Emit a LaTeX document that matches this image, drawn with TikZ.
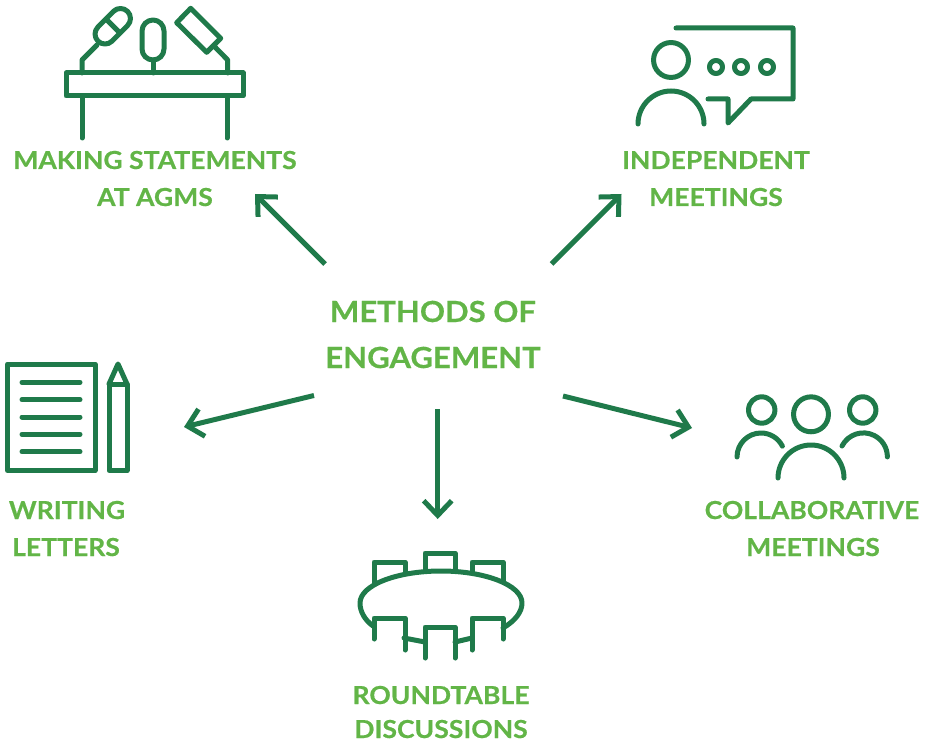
\documentclass[tikz,border=0pt]{standalone}
\usepackage{fontspec}
\setmainfont{Lato}[BoldFeatures={FakeStretch=1.07,FakeBold=0.5}]
\usetikzlibrary{arrows.meta}
\definecolor{dk}{HTML}{1F7A4A}
\definecolor{lt}{HTML}{62B547}
\tikzset{
  x=0.75pt,y=-0.75pt,
  icon/.style={draw=dk,line width=3.75pt,line cap=round,line join=round},
  arrowline/.style={draw=dk,line width=3.75pt,-{Straight Barb[length=11pt,width=21pt,line width=3.75pt]}},
  title/.style={text=lt,font=\fontsize{21.8}{34.5}\selectfont\bfseries,align=center,anchor=base,inner sep=0pt},
  label/.style={text=lt,font=\fontsize{18.6}{27}\selectfont\bfseries,align=center,anchor=base,inner sep=0pt},
}
\begin{document}
\begin{tikzpicture}
\useasboundingbox (0,0) rectangle (930,741);
% labels
\node[title] (methodsA) at (433,322) {METHODS OF};
\node[title] (methodsB) at (433,368) {ENGAGEMENT};
\node[label] (agmA) at (155,169) {MAKING STATEMENTS};
\node[label] (agmB) at (155,206) {AT AGMS};
\node[label] (indA) at (716,169) {INDEPENDENT};
\node[label] (indB) at (716,206) {MEETINGS};
\node[label] (wriA) at (67,519) {WRITING};
\node[label] (wriB) at (66,556) {LETTERS};
\node[label] (colA) at (812,519) {COLLABORATIVE};
\node[label] (colB) at (813,556) {MEETINGS};
\node[label] (rouA) at (441,704) {ROUNDTABLE};
\node[label] (rouB) at (441,738) {DISCUSSIONS};
% arrows
\coordinate (t1) at (325,264); \coordinate (h1) at (255,194);
\coordinate (t2) at (551.5,264); \coordinate (h2) at (621.5,194);
\coordinate (t3) at (314,395.5); \coordinate (h3) at (184,427);
\coordinate (t4) at (563,396); \coordinate (h4) at (692,428);
\coordinate (t5) at (437.7,409); \coordinate (h5) at (437.7,519);
\foreach \i in {1,...,5} \draw[arrowline] (t\i) -- (h\i);
% podium
\draw[icon] (66,73) rectangle (243,96);
\draw[icon] (82,96) -- (82,138);
\draw[icon] (227,96) -- (227,138);
\draw[icon] (82,73) -- (82,60) -- (97,45);
\draw[icon] (98,26.9) -- (113.4,11.4) arc[start angle=135,end angle=-45,radius=7.5pt] -- (112.1,41.1) arc[start angle=-45,end angle=-225,radius=7.5pt] -- cycle;
\draw[icon] (106,19) -- (120,33);
\draw[icon] (142,31) arc[start angle=180,end angle=0,radius=8.25pt] -- (164,49) arc[start angle=0,end angle=-180,radius=8.25pt] -- cycle;
\draw[icon] (153,60) -- (153,73);
\draw[icon] (190.7,8.3) -- (176.7,22.7) -- (206.7,52.3) -- (220.7,38.3) -- cycle;
\draw[icon] (214,46) -- (227.7,60) -- (227.7,73);
% person with bubble
\draw[icon] (671,60) circle[radius=13.1pt];
\draw[icon] (638,124) arc[start angle=180,end angle=0,radius=24.75pt];
\draw[icon] (676,28) -- (793,28) -- (793,99) -- (751,99) -- (728,123) -- (728,99) -- (708,99);
\foreach \x in {716,741,767} \draw[icon] (\x,67) circle[radius=4.9pt];
% writing
\draw[icon] (7.5,364) rectangle (95,470.5);
\foreach \y in {382.3,399.7,417,434.3,451.7} \draw[icon] (22,\y) -- (80,\y);
\draw[icon] (109,384) rectangle (127,470.5);
\draw[icon] (109,384) -- (118,364) -- (127,384);
% round table
\draw[icon] (503,628) .. controls (515,621) and (522,612) .. (522,603) .. controls (522,585) and (485,571) .. (441,571) .. controls (397,571) and (360,585) .. (360,603) .. controls (360,612) and (365,620) .. (373,626);
\draw[icon] (374,582) -- (374,562) -- (405,562) -- (405,572);
\draw[icon] (425,570) -- (425,553) -- (455,553) -- (455,570);
\draw[icon] (472,572) -- (472,562) -- (503,562) -- (503,582);
\draw[icon] (374,639) -- (374,618) -- (405,618) -- (405,650);
\draw[icon] (425,658) -- (425,627) -- (455,627) -- (455,658);
\draw[icon] (472,650) -- (472,618) -- (503,618) -- (503,639);
\draw[icon] (404,638) -- (425,642);
\draw[icon] (455,642) -- (472,638);
% group
\draw[icon] (761.7,410) circle[radius=9.9pt];
\draw[icon] (811,414.3) circle[radius=13.1pt];
\draw[icon] (862.7,410) circle[radius=9.9pt];
\draw[icon] (778,478) arc[start angle=180,end angle=0,radius=24.75pt];
\draw[icon] (737,457) arc[start angle=180,end angle=27,radius=18pt];
\draw[icon] (842,446) arc[start angle=153,end angle=0,radius=18pt];
\end{tikzpicture}
\end{document}
